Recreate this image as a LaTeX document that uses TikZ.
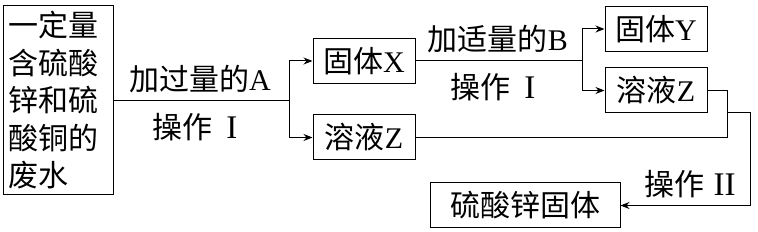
\documentclass[tikz,border=0pt]{standalone}
\usepackage{fontspec}
\setmainfont{Noto Sans CJK SC}
\newfontfamily\lat{Liberation Serif}
\usetikzlibrary{arrows.meta}

\begin{document}
\begin{tikzpicture}[
  x=1pt, y=-1pt,
  font=\fontsize{30}{37.5}\selectfont,
  caja/.style={draw=black, line width=1pt, inner sep=0pt, minimum height=45pt},
  etiq/.style={inner sep=0pt},
  flecha/.style={line width=1pt, -{Stealth[length=9pt, width=7pt]}}
]
  \useasboundingbox (0,0) rectangle (758,232);

  % Cajas
  \node[caja, minimum width=110pt, minimum height=189pt, text width=98pt, align=left] (agua) at (58,100.5) {一定量\\含硫酸\\锌和硫\\酸铜的\\废水};
  \node[caja, minimum width=102pt] (solX) at (364,61) {固体{\lat X}};
  \node[caja, minimum width=102pt] (disZa) at (364,137.5) {溶液{\lat Z}};
  \node[caja, minimum width=102pt] (solY) at (656,29) {固体{\lat Y}};
  \node[caja, minimum width=102pt] (disZb) at (656,90.5) {溶液{\lat Z}};
  \node[caja, minimum width=190pt] (sulf) at (525,205.5) {硫酸锌固体};

  % Puntos de bifurcación
  \coordinate (r1) at (289,100.5);
  \coordinate (r2) at (582,61);
  \coordinate (u1) at (727,90.5);
  \coordinate (u2) at (727,113);
  \coordinate (u3) at (750,205.5);

  % Etiquetas de las flechas
  \node[etiq] (opA) at (200,79) {加过量的{\lat A}};
  \node[etiq] (op1a) at (195,127) {操作\hspace{0.45em}{\lat\fontsize{33}{37.5}\selectfont I}};
  \node[etiq] (opB) at (498,39) {加适量的{\lat B}};
  \node[etiq] (op1b) at (493,87) {操作\hspace{0.45em}{\lat\fontsize{33}{37.5}\selectfont I}};
  \node[etiq] (op2) at (690,184) {操作\hspace{0.3em}{\lat\fontsize{33}{37.5}\selectfont II}};

  % Conexiones
  \draw[line width=1pt] (agua.east |- r1) -- (r1);
  \draw[flecha] (r1) |- (solX.west);
  \draw[flecha] (r1) |- (disZa.west);
  \draw[line width=1pt] (solX.east) -- (r2);
  \draw[flecha] (r2) |- (solY.west);
  \draw[flecha] (r2) |- (disZb.west);
  \draw[line width=1pt] (disZb.east) -- (u1) |- (disZa.east);
  \draw[flecha] (u2) -| (u3) -- (sulf.east);

\end{tikzpicture}
\end{document}
